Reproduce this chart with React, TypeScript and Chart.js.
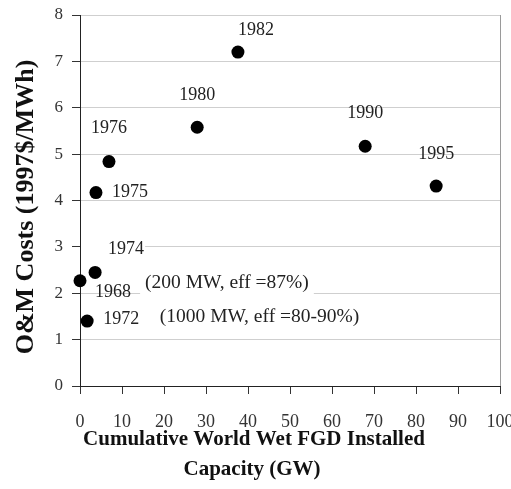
import React, { useEffect, useRef } from "react";
import { Chart, registerables } from "chart.js";

Chart.register(...registerables);

const years = ["1968", "1972", "1974", "1975", "1976", "1980", "1982", "1990", "1995"];
const capacityGW = [0, 1.7, 3.6, 3.8, 6.9, 27.9, 37.6, 67.9, 84.8];
const omCosts = [2.27, 1.4, 2.45, 4.17, 4.84, 5.58, 7.2, 5.17, 4.31];

const xTicks = [0, 10, 20, 30, 40, 50, 60, 70, 80, 90, 100];
const yTicks = [0, 1, 2, 3, 4, 5, 6, 7, 8];

const xTitleLines = ["Cumulative World Wet FGD Installed", "Capacity (GW)"];
const yTitle = "O&M Costs (1997$/MWh)";

const noteTexts = ["(200 MW, eff =87%)", "(1000 MW, eff =80-90%)"];
const noteX = [15.5, 19];
const noteY = [2.22, 1.49];

// label offsets in pixels relative to each point (style/position, not data)
const labelDX = [33, 34, 31, 34, 0, 0, 18, 0, 0];
const labelDY = [12, -2, -23, 0, -33, -32, -22, -33, -32];

const SERIF = "'Liberation Serif', 'Times New Roman', serif";

const annotPlugin = {
  id: "annot",
  afterDatasetsDraw(chart: any) {
    const { ctx, chartArea, scales } = chart;
    const xs = scales.x;
    const ys = scales.y;
    ctx.save();
    // right border
    ctx.strokeStyle = "#9a9a9a";
    ctx.lineWidth = 1;
    ctx.beginPath();
    ctx.moveTo(Math.round(chartArea.right) + 0.5, chartArea.top);
    ctx.lineTo(Math.round(chartArea.right) + 0.5, chartArea.bottom);
    ctx.stroke();

    ctx.font = `19.5px ${SERIF}`;
    ctx.textBaseline = "middle";
    // notes
    noteTexts.forEach((t, i) => {
      const px = xs.getPixelForValue(noteX[i]);
      const py = ys.getPixelForValue(noteY[i]);
      const w = ctx.measureText(t).width;
      if (i === 0) {
        ctx.fillStyle = "#ffffff";
        ctx.fillRect(px - 5, py - 10, w + 10, ys.getPixelForValue(2) - py + 12);
      }
      ctx.fillStyle = "#222222";
      ctx.textAlign = "left";
      ctx.fillText(t, px, py);
    });
    // year labels
    ctx.font = `18px ${SERIF}`;
    ctx.textAlign = "center";
    years.forEach((yr, i) => {
      const px = xs.getPixelForValue(capacityGW[i]) + labelDX[i];
      const py = ys.getPixelForValue(omCosts[i]) + labelDY[i];
      if (yr === "1974") {
        const w = ctx.measureText(yr).width;
        ctx.fillStyle = "#ffffff";
        ctx.fillRect(chartArea.left + 1, py - 6, px + w / 2 - chartArea.left, 10);
      }
      ctx.fillStyle = "#222222";
      ctx.fillText(yr, px, py);
    });

    // axis titles
    ctx.fillStyle = "#111111";
    ctx.font = `bold 21px ${SERIF}`;
    ctx.textAlign = "center";
    ctx.fillText(xTitleLines[0], 254, 440);
    ctx.fillText(xTitleLines[1], 252, 470);

    ctx.save();
    ctx.translate(26, 207);
    ctx.rotate(-Math.PI / 2);
    ctx.font = `bold 26px ${SERIF}`;
    ctx.fillText(yTitle, 0, 0);
    ctx.restore();

    ctx.restore();
  },
};

export default function App() {
  const ref = useRef<HTMLCanvasElement | null>(null);
  useEffect(() => {
    if (!ref.current) return;
    const chart = new Chart(ref.current, {
      type: "scatter",
      data: {
        datasets: [
          {
            label: "O&M",
            data: capacityGW.map((x, i) => ({ x, y: omCosts[i] })),
            backgroundColor: "#000000",
            borderWidth: 0,
            pointRadius: 6.5,
            pointHoverRadius: 6.5,
            clip: false,
          },
        ],
      },
      options: {
        animation: false,
        responsive: false,
        devicePixelRatio: 1,
        layout: { padding: { left: 0, right: 11, top: 15, bottom: 0 } },
        plugins: { legend: { display: false }, tooltip: { enabled: false }, title: { display: false } },
        font: { family: SERIF },
        scales: {
          x: {
            type: "linear",
            min: 0,
            max: 100,
            afterBuildTicks: (s: any) => {
              s.ticks = xTicks.map((v) => ({ value: v }));
            },
            afterFit: (s: any) => {
              s.height = 103;
              s.paddingRight = 0;
              s.paddingLeft = 0;
            },
            grid: { drawOnChartArea: false, drawTicks: true, tickLength: 8, tickColor: "#333333" },
            border: { color: "#222222", width: 1 },
            ticks: { color: "#333333", font: { family: SERIF, size: 18 }, padding: 17, maxRotation: 0, autoSkip: false },
          },
          y: {
            type: "linear",
            min: 0,
            max: 8,
            afterBuildTicks: (s: any) => {
              s.ticks = yTicks.map((v) => ({ value: v }));
            },
            afterFit: (s: any) => {
              s.width = 80;
              s.paddingTop = 0;
              s.paddingBottom = 0;
            },
            grid: { color: "#cfcfcf", tickColor: "#333333", tickLength: 8 },
            border: { color: "#222222", width: 1 },
            ticks: { color: "#333333", font: { family: SERIF, size: 17 }, padding: 9 },
          },
        },
      } as any,
      plugins: [annotPlugin],
    });
    return () => chart.destroy();
  }, []);
  return (
    <div style={{ position: "fixed", left: 0, top: 0, width: 511, height: 489, background: "#fff" }}>
      <canvas ref={ref} width={511} height={489} style={{ display: "block" }} />
    </div>
  );
}
